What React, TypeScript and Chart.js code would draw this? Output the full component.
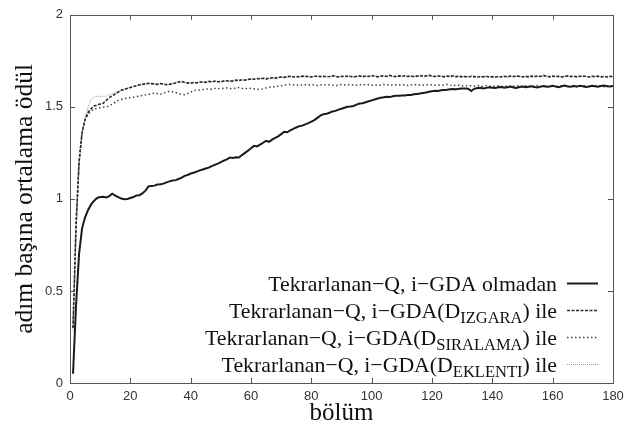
import { useEffect, useRef } from 'react';
import { Chart, registerables } from 'chart.js';

Chart.register(...registerables);

// ---- Data ----
const EPISODE_COUNT = 180;
const EPISODES: number[] = Array.from({ length: EPISODE_COUNT }, (_, i) => i + 1);

const OLMADAN: number[] = [
  0.05, 0.42, 0.70, 0.84, 0.90, 0.94, 0.97, 0.99, 1.005, 1.01,
  1.012, 1.008, 1.015, 1.028, 1.018, 1.01, 1.002, 0.998, 1.0, 1.005,
  1.01, 1.018, 1.02, 1.03, 1.045, 1.068, 1.07, 1.072, 1.078, 1.08,
  1.083, 1.09, 1.095, 1.1, 1.102, 1.108, 1.115, 1.125, 1.13, 1.138,
  1.142, 1.148, 1.155, 1.16, 1.165, 1.17, 1.178, 1.185, 1.192, 1.2,
  1.208, 1.215, 1.225, 1.222, 1.226, 1.225, 1.238, 1.25, 1.262, 1.275,
  1.288, 1.285, 1.295, 1.305, 1.315, 1.31, 1.322, 1.332, 1.34, 1.352,
  1.365, 1.362, 1.372, 1.38, 1.388, 1.395, 1.398, 1.405, 1.412, 1.42,
  1.428, 1.44, 1.452, 1.46, 1.462, 1.468, 1.475, 1.478, 1.485, 1.49,
  1.495, 1.5, 1.502, 1.505, 1.512, 1.518, 1.52, 1.525, 1.53, 1.535,
  1.54, 1.545, 1.55, 1.552, 1.555, 1.553, 1.558, 1.56, 1.56, 1.562,
  1.562, 1.565, 1.565, 1.568, 1.57, 1.572, 1.575, 1.578, 1.582, 1.585,
  1.588, 1.586, 1.59, 1.592, 1.593, 1.595, 1.597, 1.596, 1.598, 1.6,
  1.6, 1.598, 1.586, 1.598, 1.602, 1.604, 1.6, 1.603, 1.606, 1.604,
  1.602, 1.606, 1.608, 1.604, 1.607, 1.61, 1.605, 1.603, 1.608, 1.61,
  1.606, 1.609, 1.612, 1.608, 1.605, 1.61, 1.613, 1.609, 1.611, 1.615,
  1.61, 1.607, 1.612, 1.616, 1.611, 1.609, 1.613, 1.61, 1.614, 1.612,
  1.608, 1.611, 1.615, 1.612, 1.609, 1.613, 1.616, 1.612, 1.61, 1.613,
];

const IZGARA: number[] = [
  0.30, 0.86, 1.2, 1.36, 1.43, 1.47, 1.49, 1.505, 1.51, 1.515,
  1.52, 1.535, 1.55, 1.56, 1.57, 1.58, 1.59, 1.595, 1.6, 1.605,
  1.61, 1.615, 1.62, 1.622, 1.625, 1.628, 1.626, 1.624, 1.622, 1.626,
  1.624, 1.62, 1.622, 1.626, 1.63, 1.635, 1.638, 1.632, 1.63, 1.628,
  1.632, 1.63, 1.634, 1.636, 1.633, 1.638, 1.635, 1.64, 1.637, 1.636,
  1.64, 1.642, 1.638, 1.641, 1.645, 1.643, 1.647, 1.645, 1.648, 1.652,
  1.65, 1.654, 1.652, 1.655, 1.651, 1.656, 1.658, 1.655, 1.66, 1.662,
  1.66, 1.664, 1.666, 1.662, 1.665, 1.663, 1.667, 1.664, 1.666, 1.662,
  1.665, 1.668, 1.664, 1.666, 1.663, 1.665, 1.669, 1.665, 1.662, 1.666,
  1.664, 1.667, 1.665, 1.662, 1.666, 1.668, 1.664, 1.667, 1.665, 1.67,
  1.666, 1.663, 1.667, 1.669, 1.665, 1.671, 1.667, 1.664, 1.668, 1.666,
  1.669, 1.665, 1.668, 1.664, 1.667, 1.67, 1.666, 1.668, 1.672, 1.667,
  1.665, 1.668, 1.666, 1.663, 1.667, 1.665, 1.668, 1.664, 1.666, 1.663,
  1.665, 1.662, 1.666, 1.664, 1.661, 1.665, 1.663, 1.666, 1.662, 1.664,
  1.661, 1.665, 1.662, 1.666, 1.663, 1.667, 1.664, 1.669, 1.665, 1.662,
  1.666, 1.663, 1.667, 1.664, 1.668, 1.665, 1.671, 1.666, 1.663, 1.667,
  1.664, 1.666, 1.662, 1.665, 1.668, 1.664, 1.667, 1.663, 1.666, 1.668,
  1.665, 1.662, 1.666, 1.664, 1.667, 1.663, 1.665, 1.662, 1.666, 1.664,
];

const SIRALAMA: number[] = [
  0.30, 0.86, 1.2, 1.36, 1.43, 1.46, 1.478, 1.488, 1.492, 1.495,
  1.498, 1.5, 1.505, 1.515, 1.525, 1.535, 1.54, 1.545, 1.548, 1.55,
  1.552, 1.556, 1.558, 1.562, 1.565, 1.568, 1.572, 1.575, 1.572, 1.568,
  1.575, 1.58, 1.585, 1.582, 1.578, 1.572, 1.568, 1.566, 1.572, 1.58,
  1.588, 1.59, 1.592, 1.594, 1.596, 1.598, 1.595, 1.6, 1.598, 1.602,
  1.6, 1.603, 1.6, 1.598, 1.602, 1.605, 1.601, 1.598, 1.602, 1.6,
  1.598, 1.596, 1.594, 1.598, 1.603, 1.606, 1.61, 1.608, 1.612, 1.615,
  1.618, 1.62, 1.622, 1.619, 1.617, 1.62, 1.618, 1.621, 1.617, 1.619,
  1.62, 1.616, 1.619, 1.622, 1.618, 1.62, 1.617, 1.614, 1.618, 1.621,
  1.619, 1.622, 1.618, 1.62, 1.617, 1.62, 1.623, 1.619, 1.621, 1.618,
  1.62, 1.616, 1.619, 1.622, 1.618, 1.621, 1.617, 1.62, 1.618, 1.621,
  1.619, 1.616, 1.62, 1.618, 1.622, 1.619, 1.617, 1.621, 1.618, 1.62,
  1.617, 1.62, 1.616, 1.619, 1.622, 1.618, 1.615, 1.619, 1.617, 1.614,
  1.616, 1.613, 1.615, 1.612, 1.616, 1.613, 1.611, 1.615, 1.612, 1.614,
  1.611, 1.615, 1.612, 1.61, 1.614, 1.611, 1.613, 1.616, 1.612, 1.61,
  1.614, 1.611, 1.609, 1.613, 1.616, 1.612, 1.61, 1.614, 1.611, 1.615,
  1.612, 1.61, 1.613, 1.616, 1.611, 1.614, 1.612, 1.609, 1.613, 1.616,
  1.612, 1.61, 1.614, 1.611, 1.615, 1.612, 1.609, 1.613, 1.611, 1.614,
];

const EKLENTI: number[] = [
  0.28, 0.80, 1.18, 1.35, 1.44, 1.50, 1.54, 1.557, 1.557, 1.557,
  1.557, 1.558, 1.565, 1.572, 1.578, 1.584, 1.59, 1.597, 1.602, 1.606,
  1.61, 1.614, 1.618, 1.622, 1.624, 1.626, 1.628, 1.625, 1.623, 1.627,
  1.626, 1.622, 1.624, 1.628, 1.632, 1.633, 1.636, 1.634, 1.628, 1.631,
  1.63, 1.633, 1.636, 1.634, 1.637, 1.635, 1.638, 1.636, 1.64, 1.638,
  1.642, 1.64, 1.643, 1.645, 1.642, 1.646, 1.644, 1.648, 1.65, 1.649,
  1.653, 1.651, 1.655, 1.653, 1.657, 1.654, 1.656, 1.659, 1.657, 1.661,
  1.663, 1.661, 1.664, 1.667, 1.663, 1.666, 1.664, 1.668, 1.663, 1.665,
  1.667, 1.664, 1.668, 1.665, 1.667, 1.663, 1.666, 1.668, 1.665, 1.663,
  1.666, 1.664, 1.668, 1.665, 1.663, 1.667, 1.666, 1.664, 1.668, 1.666,
  1.668, 1.665, 1.664, 1.667, 1.669, 1.666, 1.664, 1.668, 1.665, 1.667,
  1.664, 1.668, 1.666, 1.669, 1.665, 1.667, 1.669, 1.665, 1.668, 1.664,
  1.667, 1.665, 1.668, 1.666, 1.664, 1.667, 1.665, 1.662, 1.665, 1.667,
  1.663, 1.666, 1.664, 1.662, 1.666, 1.663, 1.665, 1.664, 1.666, 1.662,
  1.665, 1.663, 1.667, 1.664, 1.662, 1.665, 1.668, 1.664, 1.666, 1.664,
  1.663, 1.667, 1.664, 1.666, 1.663, 1.668, 1.665, 1.667, 1.665, 1.664,
  1.667, 1.663, 1.666, 1.664, 1.665, 1.667, 1.664, 1.666, 1.663, 1.665,
  1.667, 1.664, 1.662, 1.666, 1.664, 1.666, 1.663, 1.667, 1.664, 1.665,
];

const LEGEND_MAIN: string[] = [
  'Tekrarlanan\u2212Q, i\u2212GDA olmadan',
  'Tekrarlanan\u2212Q, i\u2212GDA(D',
  'Tekrarlanan\u2212Q, i\u2212GDA(D',
  'Tekrarlanan\u2212Q, i\u2212GDA(D',
];
const LEGEND_SUB: string[] = ['', 'IZGARA', 'SIRALAMA', 'EKLENTI'];
const LEGEND_TAIL: string[] = ['', ') ile', ') ile', ') ile'];

const X_TITLE = 'bölüm';
const Y_TITLE = 'adım başına ortalama ödül';

const SERIF = "'Liberation Serif', 'DejaVu Serif', serif";
const SANS = "'Liberation Sans', Arial, sans-serif";

const toPoints = (vals: number[]) => vals.map((v, i) => ({ x: EPISODES[i], y: v }));

const framePlugin = {
  id: 'frameTicks',
  afterDatasetsDraw(chart: any) {
    const { ctx, chartArea } = chart;
    const { left, right, top, bottom } = chartArea;
    const xs = chart.scales.x;
    const ys = chart.scales.y;
    const len = 5;
    ctx.save();
    ctx.strokeStyle = '#555';
    ctx.lineWidth = 1;
    ctx.setLineDash([]);
    ctx.beginPath();
    xs.ticks.forEach((t: any) => {
      const px = Math.round(xs.getPixelForValue(t.value)) + 0.5;
      ctx.moveTo(px, bottom);
      ctx.lineTo(px, bottom - len);
      ctx.moveTo(px, top);
      ctx.lineTo(px, top + len);
    });
    ys.ticks.forEach((t: any) => {
      const py = Math.round(ys.getPixelForValue(t.value)) + 0.5;
      ctx.moveTo(left, py);
      ctx.lineTo(left + len, py);
      ctx.moveTo(right, py);
      ctx.lineTo(right - len, py);
    });
    ctx.stroke();
    ctx.strokeRect(Math.round(left) + 0.5, Math.round(top) + 0.5, Math.round(right - left), Math.round(bottom - top));
    ctx.restore();
  },
};

const legendPlugin = {
  id: 'subLegend',
  afterDraw(chart: any) {
    const { ctx, chartArea } = chart;
    const mainFont = `21.8px ${SERIF}`;
    const subFont = `16.5px ${SERIF}`;
    const textRight = chartArea.right - 56;
    const lineStart = chartArea.right - 46;
    const lineEnd = chartArea.right - 15;
    ctx.save();
    ctx.textAlign = 'left';
    ctx.textBaseline = 'alphabetic';
    LEGEND_MAIN.forEach((main, i) => {
      const sub = LEGEND_SUB[i];
      const tail = LEGEND_TAIL[i];
      const yLine = chartArea.bottom - 100 + i * 27;
      const base = yLine + 8;
      ctx.font = mainFont;
      const wMain = ctx.measureText(main).width;
      const wTail = tail ? ctx.measureText(tail).width : 0;
      ctx.font = subFont;
      const wSub = sub ? ctx.measureText(sub).width : 0;
      let x = textRight - (wMain + wSub + wTail);
      ctx.fillStyle = '#111';
      ctx.font = mainFont;
      ctx.fillText(main, x, base);
      x += wMain;
      if (sub) {
        ctx.font = subFont;
        ctx.fillText(sub, x, base + 5);
        x += wSub;
      }
      if (tail) {
        ctx.font = mainFont;
        ctx.fillText(tail, x, base);
      }
      const ds = chart.data.datasets[i];
      ctx.strokeStyle = ds.borderColor;
      ctx.lineWidth = ds.borderWidth;
      ctx.setLineDash(ds.borderDash || []);
      ctx.beginPath();
      ctx.moveTo(lineStart, yLine + 0.5);
      ctx.lineTo(lineEnd, yLine + 0.5);
      ctx.stroke();
    });
    ctx.restore();
  },
};

export default function App() {
  const ref = useRef<HTMLCanvasElement | null>(null);
  useEffect(() => {
    document.body.style.margin = '0';
    const canvas = ref.current;
    if (!canvas) return;
    const chart = new Chart(canvas, {
      type: 'line',
      data: {
        datasets: [
          {
            label: 'olmadan',
            data: toPoints(OLMADAN),
            borderColor: '#1a1a1a',
            borderWidth: 2,
            pointRadius: 0,
            tension: 0,
          },
          {
            label: 'IZGARA',
            data: toPoints(IZGARA),
            borderColor: '#2a2a2a',
            borderWidth: 1.6,
            borderDash: [3, 1.5],
            pointRadius: 0,
            tension: 0,
          },
          {
            label: 'SIRALAMA',
            data: toPoints(SIRALAMA),
            borderColor: '#444',
            borderWidth: 1.5,
            borderDash: [1.5, 2.5],
            pointRadius: 0,
            tension: 0,
          },
          {
            label: 'EKLENTI',
            data: toPoints(EKLENTI),
            borderColor: '#999',
            borderWidth: 1,
            borderDash: [1, 1],
            pointRadius: 0,
            tension: 0,
          },
        ],
      },
      options: {
        animation: false,
        responsive: false,
        layout: { padding: { top: 11, right: 24, left: 0, bottom: 0 } },
        plugins: { legend: { display: false }, tooltip: { enabled: false } },
        scales: {
          x: {
            type: 'linear',
            min: 0,
            max: 180,
            grid: { display: false, drawTicks: false },
            border: { display: false },
            ticks: {
              stepSize: 20,
              padding: 6,
              color: '#333',
              font: { family: SANS, size: 13 },
              maxRotation: 0,
              callback: (v: any) => String(v),
            },
            title: {
              display: true,
              text: X_TITLE,
              color: '#111',
              font: { family: SERIF, size: 25, lineHeight: 1.2 },
              padding: { top: 0, bottom: 4 },
            },
            afterFit: (s: any) => {
              s.height = 49;
            },
          },
          y: {
            type: 'linear',
            min: 0,
            max: 2,
            grid: { display: false, drawTicks: false },
            border: { display: false },
            ticks: {
              stepSize: 0.5,
              padding: 7,
              color: '#333',
              font: { family: SANS, size: 13 },
              callback: (v: any) => String(v),
            },
            title: {
              display: true,
              text: Y_TITLE,
              color: '#111',
              font: { family: SERIF, size: 25.5, lineHeight: 1.2 },
              padding: { top: 10, bottom: 0 },
            },
            afterFit: (s: any) => {
              s.width = 70;
            },
          },
        },
      },
      plugins: [framePlugin, legendPlugin],
    });
    return () => chart.destroy();
  }, []);
  return <canvas ref={ref} width={637} height={432} />;
}
